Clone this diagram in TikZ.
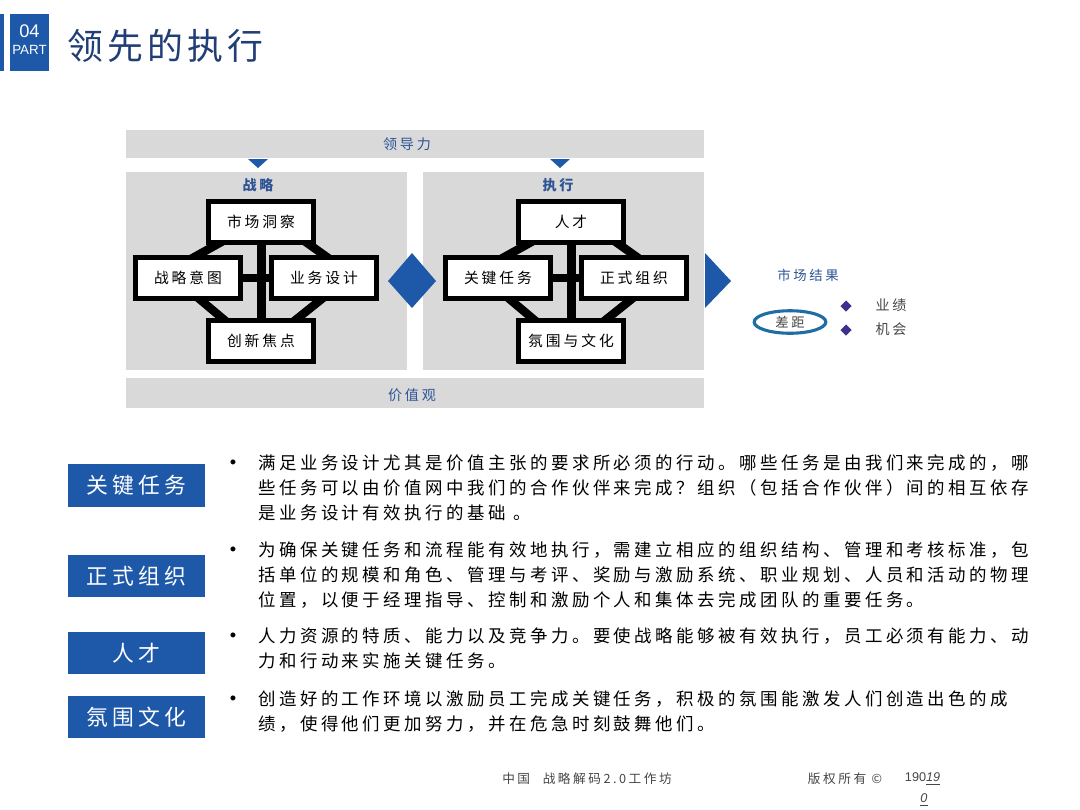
\documentclass[tikz,border=0pt]{standalone}
\usepackage{fontspec}
\setmainfont{Noto Sans CJK SC}
\newfontfamily\cjk{Noto Sans CJK SC}[LetterSpace=20]
\newfontfamily\cjkt{Noto Sans CJK SC}[LetterSpace=12]
\newfontfamily\lat{Liberation Sans}
\usepackage{xcolor}
\usetikzlibrary{calc, positioning, shapes.geometric}
\definecolor{panelgray}{RGB}{217,217,217}
\definecolor{mainblue}{RGB}{30,88,168}
\definecolor{titleblue}{RGB}{33,62,118}
\definecolor{labelblue}{RGB}{46,84,150}
\definecolor{ringblue}{RGB}{30,110,165}
\definecolor{dotpurple}{RGB}{60,50,140}
\definecolor{footgray}{RGB}{70,70,70}
\pgfdeclarelayer{back}
\pgfdeclarelayer{links}
\pgfsetlayers{back,links,main}

\begin{document}
\begin{tikzpicture}[x=0.025cm, y=-0.025cm,
    kbox/.style={draw, line width=3.6pt, fill=white, minimum width=75pt, minimum height=29pt, inner sep=0pt, font=\cjk\fontsize{10.5}{12}\selectfont},
    link/.style={line width=6pt},
    hd/.style={text=labelblue, font=\cjk\fontsize{10}{12}\selectfont},
    tag/.style={fill=mainblue, text=white, minimum width=97.5pt, minimum height=30pt, inner sep=0pt, font=\cjk\fontsize{15.5}{18}\selectfont},
    para/.style={anchor=north west, align=left, inner sep=0pt, font=\cjk\fontsize{12.4}{17.8}\selectfont},
    dot/.style={font=\lat\fontsize{13}{13}\selectfont},
    foot/.style={text=footgray, font=\cjk\fontsize{9}{11}\selectfont}]
    \useasboundingbox (0,0) rectangle (1080,810);

    % Fondo, barre e pannelli
    \begin{pgfonlayer}{back}
        \fill[white] (0,0) rectangle (1080,810);
        \fill[panelgray] (126,130) rectangle (704,158);
        \fill[panelgray] (126,378) rectangle (704,408);
        \fill[panelgray] (126,172) rectangle (407,370);
        \fill[panelgray] (423,172) rectangle (704,370);
    \end{pgfonlayer}

    % Intestazione
    \fill[mainblue] (0,14) rectangle (4,71);
    \node[fill=mainblue, minimum width=27.7pt, minimum height=40.5pt, inner sep=0pt] (part) at (29.5,42.5) {};
    \node[text=white, font=\lat\fontsize{13}{13}\selectfont] (partnum) at (29.5,31) {04};
    \node[text=white, font=\lat\fontsize{9.5}{9.5}\selectfont] (partlbl) at (29.5,50) {PART};
    \node[anchor=west, inner sep=0pt, text=titleblue, font=\cjkt\fontsize{25.5}{25.5}\selectfont] (title) at (67,46) {领先的执行};

    \node[hd] (lead) at (407,144) {领导力};
    \node[hd] (values) at (412,395) {价值观};
    \node[hd, font=\cjk\bfseries\fontsize{10}{12}\selectfont] (strat) at (258,185) {战略};
    \node[hd, font=\cjk\bfseries\fontsize{10}{12}\selectfont] (exec) at (558,185) {执行};

    \fill[mainblue] (248,159) -- (268,159) -- (258,168) -- cycle;
    \fill[mainblue] (550,159) -- (570,159) -- (560,168) -- cycle;
    \fill[mainblue] (412,253) -- (436,281) -- (412,308) -- (388,281) -- cycle;
    \fill[mainblue] (705,253) -- (731,281) -- (705,308) -- cycle;

    % I due blocchi
    \foreach \k/\dx/\ta/\tb/\tc/\td in {s/0/市场洞察/战略意图/业务设计/创新焦点, e/310/人才/关键任务/正式组织/氛围与文化}{
        \node[kbox] (\k-top) at (261+\dx,222) {\ta};
        \node[kbox] (\k-lft) at (188+\dx,278) {\tb};
        \node[kbox] (\k-rgt) at (324+\dx,278) {\tc};
        \node[kbox] (\k-bot) at (261+\dx,341) {\td};
        \begin{pgfonlayer}{links}
            \draw[link, line width=6.4pt] (\k-top) -- (\k-bot);
            \draw[link, line width=5pt] (\k-lft) -- (\k-rgt);
            \draw[link] ($(\k-top)+(-36,18)$) -- ($(\k-lft)+(1,-18)$);
            \draw[link] ($(\k-top)+(42,18)$) -- ($(\k-rgt)+(7,-18)$);
            \draw[link] ($(\k-lft)+(5.5,16)$) -- ($(\k-bot)+(-29.5,-15)$);
            \draw[link] ($(\k-rgt)+(4,16)$) -- ($(\k-bot)+(27,-15)$);
        \end{pgfonlayer}
    }

    % Risultati di mercato
    \node[hd, font=\cjk\fontsize{9.5}{11}\selectfont] (market) at (808,275) {市场结果};
    \node[draw=ringblue, ellipse, line width=2.2pt, minimum width=51pt, minimum height=16pt, inner sep=0pt,
          text=footgray, font=\cjk\fontsize{9.5}{11}\selectfont] (gap) at (790,322) {差距};
    \node[diamond, fill=dotpurple, minimum size=8pt, inner sep=0pt] (d1) at (846,306) {};
    \node[diamond, fill=dotpurple, minimum size=8pt, inner sep=0pt] (d2) at (846,330) {};
    \node[text=footgray, font=\cjk\fontsize{10}{12}\selectfont] (perf) at (891,305) {业绩};
    \node[text=footgray, font=\cjk\fontsize{10}{12}\selectfont] (chance) at (891,329) {机会};

    % Etichette e testi
    \node[tag] (t1) at (136.5,485.5) {关键任务};
    \node[tag] (t2) at (136.5,576) {正式组织};
    \node[tag] (t3) at (136.5,653) {人才};
    \node[tag] (t4) at (136.5,717) {氛围文化};

    \node[dot] (b1) at (233,464) {•};
    \node[dot] (b2) at (233,551) {•};
    \node[dot] (b3) at (233,637) {•};
    \node[dot] (b4) at (233,700) {•};

    \node[para] (p1) at (258,454) {满足业务设计尤其是价值主张的要求所必须的行动。哪些任务是由我们来完成的，哪\\
        些任务可以由价值网中我们的合作伙伴来完成？组织（包括合作伙伴）间的相互依存\\
        是业务设计有效执行的基础 。};
    \node[para] (p2) at (258,541) {为确保关键任务和流程能有效地执行，需建立相应的组织结构、管理和考核标准，包\\
        括单位的规模和角色、管理与考评、奖励与激励系统、职业规划、人员和活动的物理\\
        位置，以便于经理指导、控制和激励个人和集体去完成团队的重要任务。};
    \node[para] (p3) at (258,627) {人力资源的特质、能力以及竞争力。要使战略能够被有效执行，员工必须有能力、动\\
        力和行动来实施关键任务。};
    \node[para] (p4) at (258,690) {创造好的工作环境以激励员工完成关键任务，积极的氛围能激发人们创造出色的成\\
        绩，使得他们更加努力，并在危急时刻鼓舞他们。};

    % Piè di pagina
    \node[foot] (org) at (587,779) {中国\quad 战略解码2.0工作坊};
    \node[foot] (copy) at (845,779) {版权所有 ©};
    \node[foot, anchor=west, font=\lat\fontsize{9}{11}\selectfont] (yr) at (900,779) {190\underline{\textit{19}}};
    \node[foot, font=\lat\fontsize{9}{11}\selectfont] (yr2) at (924,800) {\underline{\textit{0}}};
\end{tikzpicture}
\end{document}
